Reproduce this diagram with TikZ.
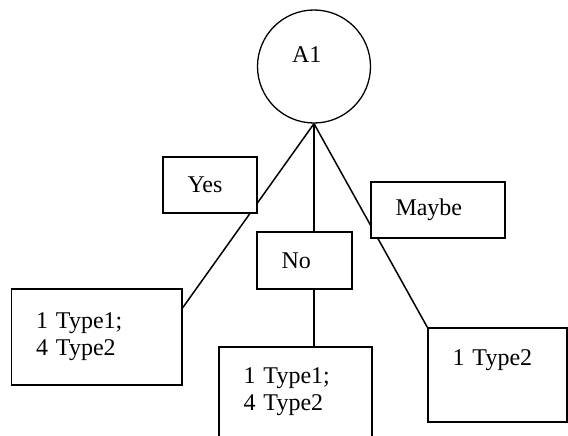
\documentclass[tikz,border=0pt]{standalone}
\usepackage{fontspec}
\setmainfont{Liberation Serif}
\usetikzlibrary{calc,backgrounds}

\begin{document}
\begin{tikzpicture}[x=1pt, y=-1pt,
                    line width=1.3pt,
                    every node/.style={font=\fontsize{24}{27}\selectfont},
                    choice/.style={draw, fill=white, rectangle, align=left, inner xsep=24.5pt, inner ysep=0pt}
]
\clip (0,0) rectangle (568,436);

\node [circle, draw, minimum size=113pt, align=left, text width=44pt, text depth=23pt] at (314,66.5) (a1) {A1};
%
\node [choice, text width=45pt, minimum height=56pt] at (210,185) (yes) {Yes};
\node [choice, text width=46pt, minimum height=57pt] at (304.5,260.5) (no) {No};
\node [choice, text width=85pt, minimum height=56pt] at (438,210) (maybe) {Maybe};
%
\node [choice, text width=121.5pt, minimum height=96pt] at (96.75,337) (yesres) {1 Type1;\\4 Type2};
\node [choice, text width=104pt, minimum height=113pt, text depth=56pt] at (295.5,403.5) (nores) {1 Type1;\\4 Type2};
\node [choice, text width=90pt, minimum height=94pt, text depth=34pt] at (497.5,375) (mayberes) {1 Type2};
%
\begin{pgfonlayer}{background}
\draw [line width=1.5pt] (a1.south) -- ($(yesres.north east)!0.2!(yesres.south east)$);
\draw [line width=1.5pt] (a1.south) -- (a1.south |- nores.north);
\draw [line width=1.5pt] (a1.south) -- (mayberes.north west);
\end{pgfonlayer}
\end{tikzpicture}
\end{document}
